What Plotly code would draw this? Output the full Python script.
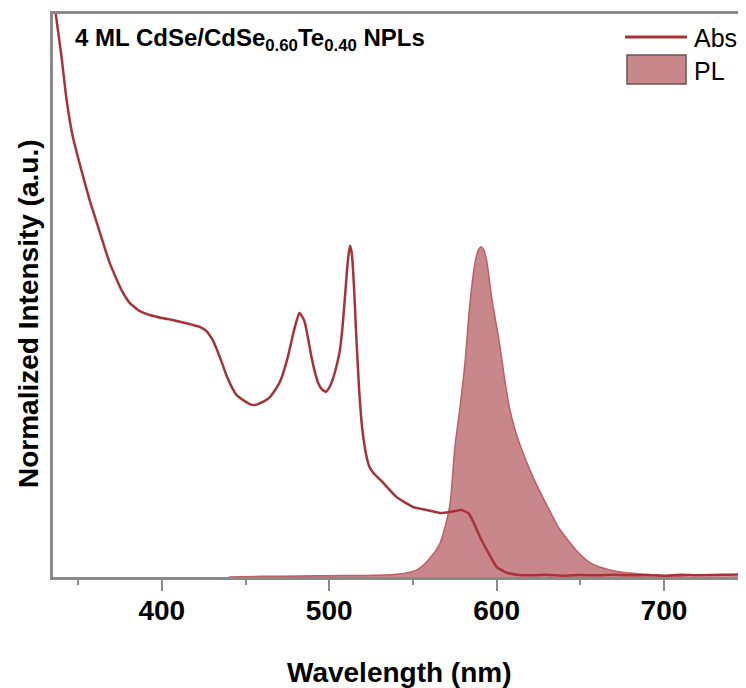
import plotly.graph_objects as go

# absorption spectrum (normalized so the 512 nm peak ~ 1)
abs_wl = [335, 336.6, 340.0, 343.0, 347.0, 352.0, 357.0, 361.9, 368.9, 375.9, 380.9,
          386.8, 392.8, 400, 406.6, 412, 418.5, 422.7, 426.7, 430.5, 432.7, 435.5,
          438.7, 442.6, 444.6, 448.6, 452.6, 455.6, 457.4, 461, 464.6, 467.5, 470.5,
          472.5, 475.3, 477.5, 479.5, 482.1, 483.8, 485.5, 487.5, 489.5, 491.5, 493.4,
          495.8, 498.0, 500.2, 502.4, 504.4, 506.4, 508.0, 509.4, 510.5, 511.4, 512.4,
          513.2, 514.0, 515.0, 516.0, 517.0, 517.9, 519.7, 522.3, 524.0, 526.3, 532.3,
          540.3, 550.2, 558.2, 566.2, 572.1, 576.0, 579.1, 583.1, 586.1, 590.1, 595.1,
          600.1, 606.0, 614.0, 622, 630, 640, 650, 660, 670, 680, 690, 700, 710, 720,
          730, 740, 750]
abs_val = [1.78, 1.708, 1.58, 1.45, 1.33, 1.232, 1.14, 1.062, 0.951, 0.870, 0.830,
           0.806, 0.794, 0.785, 0.779, 0.772, 0.764, 0.758, 0.745, 0.718, 0.692, 0.655,
           0.610, 0.568, 0.552, 0.536, 0.524, 0.521, 0.524, 0.532, 0.545, 0.565, 0.591,
           0.618, 0.667, 0.715, 0.758, 0.800, 0.790, 0.770, 0.720, 0.664, 0.620, 0.588,
           0.568, 0.561, 0.575, 0.603, 0.640, 0.688, 0.760, 0.848, 0.920, 0.970, 1.004,
           0.990, 0.952, 0.860, 0.748, 0.650, 0.567, 0.452, 0.365, 0.334, 0.316, 0.285,
           0.242, 0.212, 0.203, 0.194, 0.197, 0.201, 0.203, 0.194, 0.167, 0.121, 0.073,
           0.030, 0.013, 0.006, 0.005, 0.007, 0.004, 0.006, 0.005, 0.007, 0.005, 0.006,
           0.004, 0.007, 0.005, 0.006, 0.007, 0.008]

# photoluminescence spectrum (normalized, peak at ~591 nm)
pl_wl = [440, 460, 482.5, 500, 526, 542.1, 552.2, 559.0, 566.0, 569.2, 572.1, 575.1,
         578.1, 581.1, 584.1, 587.1, 589.0, 590.7, 592.5, 594.1, 597.1, 601.8, 604.8,
         607.8, 610.8, 613.8, 621.8, 631.7, 637.0, 643.7, 650.0, 656.0, 663.0, 672.0,
         686.0, 700, 712, 750]
pl_val = [0.0, 0.002, 0.003, 0.004, 0.005, 0.009, 0.021, 0.050, 0.100, 0.152, 0.218,
          0.394, 0.512, 0.648, 0.830, 0.952, 0.990, 1.0, 0.990, 0.958, 0.846, 0.706,
          0.600, 0.510, 0.450, 0.403, 0.302, 0.201, 0.150, 0.105, 0.068, 0.043, 0.028,
          0.017, 0.009, 0.004, 0.0, 0.0]

x_ticks = [400, 500, 600, 700]

abs_color = "#A5343A"
pl_fill = "#C8878A"
pl_line = "#BE5E65"
axis_gray = "#8A8A8A"
font = "Liberation Sans, Arial, sans-serif"

fig = go.Figure()
fig.add_trace(go.Scatter(x=pl_wl, y=pl_val, name="PL", mode="lines",
                         line=dict(color=pl_line, width=1.5, shape="spline", smoothing=0.8),
                         fill="tozeroy", fillcolor=pl_fill))
fig.add_trace(go.Scatter(x=abs_wl, y=abs_val, name="Abs", mode="lines",
                         line=dict(color=abs_color, width=2.5, shape="spline", smoothing=0.4)))

# page has an 8px body margin, so screen pixel positions of the plot area are
# 53..746 (x) and 14..577 (y); convert those to paper coordinates
def px(v):
    return (v - 53) / 693


def py(v):
    return (577 - v) / 563


# hand-drawn legend
fig.add_shape(type="line", xref="paper", yref="paper",
              x0=px(625), x1=px(687), y0=py(37), y1=py(37),
              line=dict(color=abs_color, width=3))
fig.add_shape(type="rect", xref="paper", yref="paper",
              x0=px(627), x1=px(686), y0=py(84), y1=py(55),
              fillcolor=pl_fill, line=dict(color="#6A5556", width=1.5))
fig.add_annotation(text="Abs", xref="paper", yref="paper", x=px(692), y=py(38),
                   xanchor="left", yanchor="middle", showarrow=False,
                   font=dict(size=25, color="black", family=font))
fig.add_annotation(text="PL", xref="paper", yref="paper", x=px(692), y=py(71),
                   xanchor="left", yanchor="middle", showarrow=False,
                   font=dict(size=25, color="black", family=font))

fig.add_annotation(text="<b>4 ML CdSe/CdSe<sub>0.60</sub>Te<sub>0.40</sub> NPLs</b>",
                   xref="paper", yref="paper", x=px(73), y=py(22),
                   xanchor="left", yanchor="top", showarrow=False,
                   font=dict(size=24, color="black", family=font))

fig.add_annotation(text="<b>Normalized Intensity (a.u.)</b>", textangle=-90,
                   xref="paper", yref="paper", x=px(28), y=py(314),
                   xanchor="center", yanchor="middle", showarrow=False,
                   font=dict(size=28, color="black", family=font))

fig.add_annotation(text="<b>Wavelength (nm)</b>",
                   xref="paper", yref="paper", x=px(400), y=py(672),
                   xanchor="center", yanchor="middle", showarrow=False,
                   font=dict(size=28, color="black", family=font))

fig.update_layout(
    width=738, height=680,
    margin=dict(l=45, r=0, t=6, b=111),
    plot_bgcolor="white", paper_bgcolor="white",
    showlegend=False,
    font=dict(family=font, color="black"),
    xaxis=dict(range=[335, 749], tickvals=x_ticks, ticks="outside", ticklen=11,
               tickwidth=2, tickcolor=axis_gray, showline=True, linewidth=2.5,
               linecolor=axis_gray, mirror=True, showgrid=False, zeroline=False,
               tickfont=dict(size=28, weight="bold", family=font),
               ticklabelstandoff=-4,
               minor=dict(ticks="outside", ticklen=5, tickwidth=2,
                          tickcolor=axis_gray, dtick=50, tick0=350)),
    yaxis=dict(range=[0, 1.706], showticklabels=False, ticks="", showline=True,
               linewidth=2.5, linecolor=axis_gray, showgrid=False, zeroline=False),
)

fig.write_html("out.html")
